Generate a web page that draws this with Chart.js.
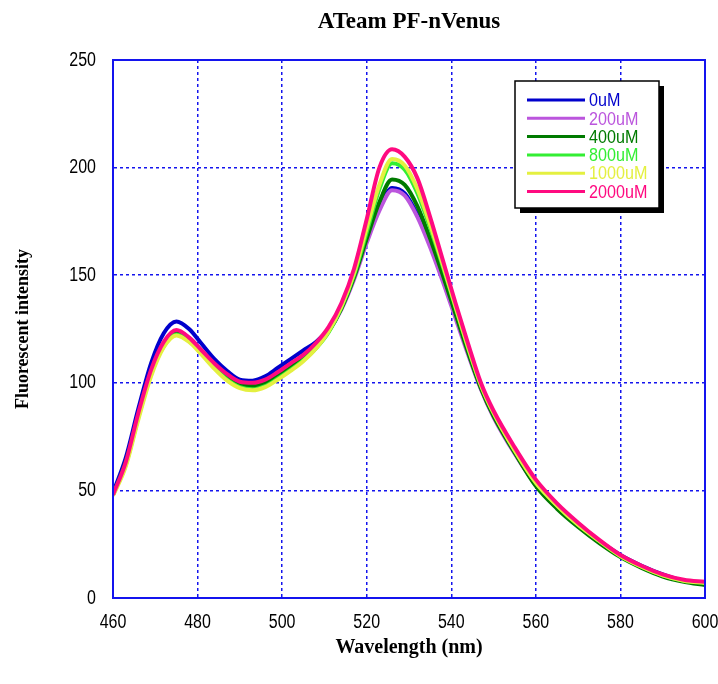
<!DOCTYPE html>
<html>
<head>
<meta charset="utf-8">
<title>ATeam PF-nVenus</title>
<script src="https://cdn.jsdelivr.net/npm/chart.js@4.4.1/dist/chart.umd.min.js"></script>
<style>
    html, body { margin: 0; padding: 0; background: #ffffff; }
    #wrap { width: 718px; height: 684px; position: relative; }
</style>
</head>
<body>
<div id="wrap"><canvas id="spectrum"></canvas></div>
<script>
(function(){
    'use strict';

    // Wavelength grid (nm) shared by every trace
    const wavelengths = [460,463,466,469,472,475,478,481,484,487,490,493,496,499,502,505,508,511,514,517,
                         520,523,526,529,532,535,538,541,544,547,550,555,560,565,570,575,580,585,590,595,600];

    // Fluorescent intensity, one array per ATP concentration
    const conc0 =    [49,65,88,109,123,128.5,125,118,111,105.5,101.5,101,103,107,111,115,119,125,135,149,
                      166,181,190.5,188,178,164,148,131,114,98,85,68,53,42.5,34,26.5,20,15,11,8,7];
    const conc200 =  [48,62,85,105,118,124,121,115,108.5,103,99.5,99,100.5,104,108,112,117.5,124,134,148,
                      165,180,189.5,187,177,163,147,130,113,97,84,67,52.5,42,33.5,26,19.5,14.5,10.5,8,7];
    const conc400 =  [48,63,85,105,118,124,120.5,114.5,108,102.5,99,98.5,100,103.5,107.5,111.5,117,124,134.5,149,
                      167,184,194.5,192,182,167,150,132,114,97.5,84.5,67.5,52,41.5,33,25.5,19,14,10,7.5,6];
    const conc800 =  [48,62,84,104,117,122.5,119.5,113.5,107,101.5,98,97,98.5,102,106,110.5,116,123.5,135,150,
                      170,190,202,199,188,172,154,135,116,99,86,68.5,53.5,43,34,26.5,19.5,14.5,10.5,8,7];
    const conc1000 = [47.5,61,83,103,116.5,122,119,113,106.5,101,97.5,96.5,98,101.5,105.5,110,116,124,135.5,151,
                      172,192,204,201,190,173.5,155,135.5,116.5,99,86,68.5,53.5,43,34,26.5,19.5,14.5,10.5,8,7];
    const conc2000 = [48,63,86,106,119,124.5,121,115,109,104,100.5,100,101.5,105,109,113,118.5,126,137,153,
                      176,200,208.5,205,195,177,157,137,118,100,87,70,55,44,35,27,20,15,11,8.5,7.5];

    const seriesLabels = ['0uM', '200uM', '400uM', '800uM', '1000uM', '2000uM'];
    const seriesValues = [conc0, conc200, conc400, conc800, conc1000, conc2000];
    const seriesColors = ['#0000cc', '#bb55dd', '#007a00', '#33ee33', '#e4f040', '#ff0a80'];

    const xTicks = [460, 480, 500, 520, 540, 560, 580, 600];
    const yTicks = [0, 50, 100, 150, 200, 250];

    const AXIS_BLUE = '#1414ee';
    const NARROW = "'Liberation Sans', 'DejaVu Sans', sans-serif";

    function qs(id){ return document.getElementById(id); }

    // narrow text: the original uses a condensed bitmap face, so squeeze a normal one
    function narrowText(ctx, text, x, y, sx){
        ctx.save();
        ctx.translate(x, y);
        ctx.scale(sx, 1);
        ctx.fillText(text, 0, 0);
        ctx.restore();
    }

    // frame, title, tick labels and the boxed legend with its drop shadow
    const decorPlugin = {
        id: 'decor',
        afterDraw(chart){
            const ctx = chart.ctx;
            const a = chart.chartArea;
            const xs = chart.scales.x, ys = chart.scales.y;
            ctx.save();
            ctx.strokeStyle = AXIS_BLUE;
            ctx.lineWidth = 2;
            ctx.setLineDash([]);
            ctx.strokeRect(a.left, a.top, a.right - a.left, a.bottom - a.top);

            ctx.fillStyle = '#000000';
            ctx.font = "bold 23px 'Liberation Serif', 'DejaVu Serif', serif";
            ctx.textAlign = 'center';
            ctx.textBaseline = 'middle';
            ctx.fillText('ATeam PF-nVenus', (a.left + a.right) / 2, 22);

            // tick labels placed from the library's scales
            ctx.font = '20px ' + NARROW;
            ctx.textBaseline = 'middle';
            ctx.textAlign = 'center';
            xs.ticks.forEach(t => narrowText(ctx, String(t.value), xs.getPixelForValue(t.value), a.bottom + 24, 0.8));
            ctx.textAlign = 'right';
            ys.ticks.forEach(t => narrowText(ctx, String(t.value), a.left - 17, ys.getPixelForValue(t.value), 0.8));

            // legend box
            const bx = 515, by = 81, bw = 144, bh = 127;
            ctx.fillStyle = '#000000';
            ctx.fillRect(bx + 5, by + 5, bw, bh);
            ctx.fillStyle = '#ffffff';
            ctx.fillRect(bx, by, bw, bh);
            ctx.strokeStyle = '#000000';
            ctx.lineWidth = 1.5;
            ctx.strokeRect(bx, by, bw, bh);

            ctx.font = '19px ' + NARROW;
            ctx.textAlign = 'left';
            seriesLabels.forEach((label, i) => {
                const y = by + 19 + i * 18.3;
                ctx.strokeStyle = seriesColors[i];
                ctx.lineWidth = 3;
                ctx.beginPath();
                ctx.moveTo(bx + 12, y);
                ctx.lineTo(bx + 70, y);
                ctx.stroke();
                ctx.fillStyle = seriesColors[i];
                narrowText(ctx, label, bx + 74, y + 1, 0.85);
            });
            ctx.restore();
        }
    };

    function buildDatasets(){
        return seriesLabels.map((label, i) => ({
            label: label,
            data: wavelengths.map((w, j) => ({ x: w, y: seriesValues[i][j] })),
            borderColor: seriesColors[i],
            backgroundColor: seriesColors[i],
            borderWidth: 4,
            pointRadius: 0,
            cubicInterpolationMode: 'monotone',
            fill: false,
            order: seriesLabels.length - i   // 2000uM ends up on top
        }));
    }

    function createChart(){
        return new Chart(qs('spectrum').getContext('2d'), {
            type: 'line',
            data: { datasets: buildDatasets() },
            options: {
                responsive: false,
                animation: false,
                devicePixelRatio: 1,
                layout: { padding: { top: 60, right: 13, left: 0, bottom: 0 } },
                plugins: {
                    legend: { display: false },
                    tooltip: { enabled: false },
                    title: { display: false }
                },
                scales: {
                    x: {
                        type: 'linear',
                        min: xTicks[0],
                        max: xTicks[xTicks.length - 1],
                        afterBuildTicks(scale){ scale.ticks = xTicks.map(v => ({ value: v })); },
                        afterFit(scale){ scale.height = 86; scale.paddingLeft = 0; scale.paddingRight = 0; },
                        grid: { color: AXIS_BLUE, lineWidth: 1.5, drawTicks: false },
                        border: { color: AXIS_BLUE, width: 2, dash: [3, 3] },
                        ticks: { display: false },
                        title: {
                            display: true,
                            text: 'Wavelength (nm)',
                            color: '#000000',
                            font: { family: "'Liberation Serif', 'DejaVu Serif', serif", size: 20, weight: 'bold' },
                            padding: { top: 0, bottom: 24 }
                        }
                    },
                    y: {
                        type: 'linear',
                        min: yTicks[0],
                        max: yTicks[yTicks.length - 1],
                        afterBuildTicks(scale){ scale.ticks = yTicks.map(v => ({ value: v })); },
                        afterFit(scale){ scale.width = 113; scale.paddingTop = 0; scale.paddingBottom = 0; },
                        grid: { color: AXIS_BLUE, lineWidth: 1.5, drawTicks: false },
                        border: { color: AXIS_BLUE, width: 2, dash: [3, 3] },
                        ticks: { display: false },
                        title: {
                            display: true,
                            text: 'Fluorescent intensity',
                            color: '#000000',
                            font: { family: "'Liberation Serif', 'DejaVu Serif', serif", size: 18, weight: 'bold' },
                            padding: { top: 13, bottom: 0 }
                        }
                    }
                }
            },
            plugins: [decorPlugin]
        });
    }

    const canvas = qs('spectrum');
    canvas.width = 718;
    canvas.height = 684;
    canvas.style.width = '718px';
    canvas.style.height = '684px';
    createChart();
})();
</script>
</body>
</html>
